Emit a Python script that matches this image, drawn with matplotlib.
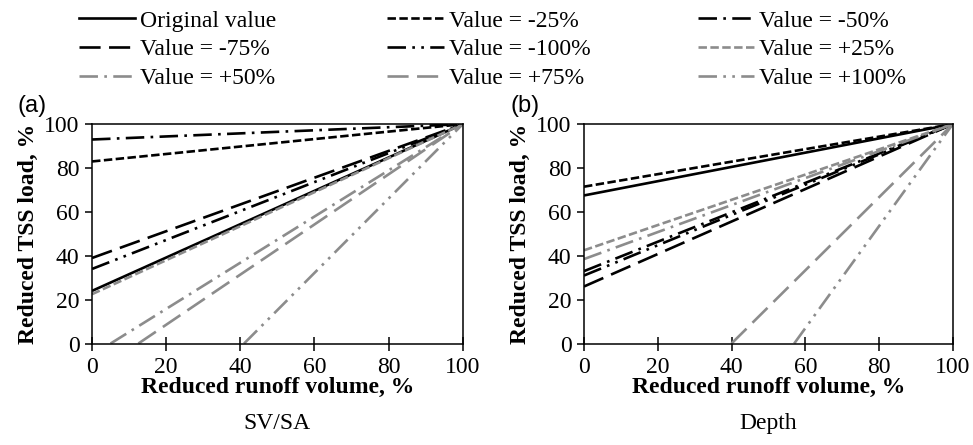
import matplotlib
matplotlib.use('Agg')
import matplotlib.pyplot as plt
from matplotlib.lines import Line2D

plt.rcParams['font.family'] = ['Liberation Serif', 'DejaVu Serif']
plt.rcParams['font.size'] = 17

# series: each line runs from its start point to (100, 100)
labels = ['Original value', 'Value = -25%', 'Value = -50%', 'Value = -75%', 'Value = -100%',
          'Value = +25%', 'Value = +50%', 'Value = +75%', 'Value = +100%']
sv_x0 = [0, 0, 0, 0, 0, 0, 5, 12.5, 41]
sv_y0 = [24, 83, 93, 39, 34, 22.5, 0, 0, 0]
depth_x0 = [0, 0, 0, 0, 0, 0, 0, 40, 57]
depth_y0 = [67.5, 71.5, 33, 26, 31, 42.5, 38.5, 0, 0]
end_x = 100
end_y = 100
ticks = [0, 20, 40, 60, 80, 100]

GRAY = '#8c8c8c'
SHORT = (0, (3.2, 1.3))
DASHDOT = (0, (7, 2.4, 1.0, 2.4))
LONG = (0, (8, 3.2))
DASHDOTDOT = (0, (7, 2.4, 1.0, 2.4, 1.0, 2.4))
styles = [('black', '-'), ('black', SHORT), ('black', DASHDOT), ('black', LONG), ('black', DASHDOTDOT),
          (GRAY, SHORT), (GRAY, DASHDOT), (GRAY, LONG), (GRAY, DASHDOTDOT)]
LW = 1.9

fig = plt.figure(figsize=(9.73, 4.45), dpi=100)
ax1 = fig.add_axes([0.0946, 0.228, 0.381, 0.493])
ax2 = fig.add_axes([0.6002, 0.228, 0.379, 0.493])


def draw_panel(ax, x0s, y0s, tag, name):
    for (c, ls), x0, y0 in zip(styles, x0s, y0s):
        ax.plot([x0, end_x], [y0, end_y], color=c, linestyle=ls, lw=LW, solid_capstyle='butt')
    ax.set_xlim(0, 100)
    ax.set_ylim(0, 100)
    ax.set_xticks(ticks)
    ax.set_yticks(ticks)
    ax.tick_params(axis='x', direction='inout', length=10, width=1.1, pad=5)
    ax.tick_params(axis='y', direction='out', length=5, width=1.1, pad=4)
    for s in ax.spines.values():
        s.set_linewidth(1.1)
    ax.set_xlabel('Reduced runoff volume, %', fontweight='bold', labelpad=-1)
    ax.set_ylabel('Reduced TSS load, %', fontweight='bold', labelpad=4)
    ax.text(-0.2, 1.085, tag, transform=ax.transAxes, family=['Liberation Sans', 'DejaVu Sans'],
            fontsize=17, ha='left', va='center')
    ax.text(0.5, -0.365, name, transform=ax.transAxes, ha='center', va='center', fontsize=17)


draw_panel(ax1, sv_x0, sv_y0, '(a)', 'SV/SA')
draw_panel(ax2, depth_x0, depth_y0, '(b)', 'Depth')

handles = [Line2D([], [], color=c, linestyle=ls, lw=LW) for c, ls in styles]
col_x = [0.081, 0.398, 0.717]
for i, x in enumerate(col_x):
    idx = [i, i + 3, i + 6]
    fig.legend([handles[j] for j in idx], [labels[j] for j in idx], loc='upper left',
               bbox_to_anchor=(x, 0.977), ncol=1, frameon=False, borderpad=0, borderaxespad=0,
               handlelength=2.4, handletextpad=0.2, labelspacing=0.3, fontsize=17)

fig.savefig('out.png', dpi=100)
